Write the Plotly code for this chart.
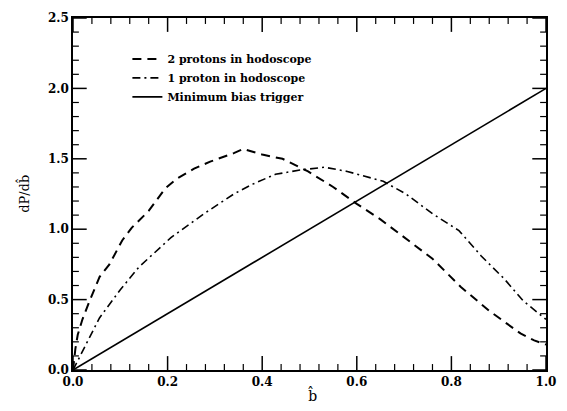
import plotly.graph_objects as go

# 2 protons in hodoscope (dashed)
b_two = [0, 0.005, 0.01, 0.02, 0.035, 0.056, 0.077, 0.104, 0.124, 0.16, 0.195, 0.22, 0.256, 0.29, 0.34, 0.36, 0.38, 0.4, 0.443, 0.497, 0.55, 0.6, 0.65, 0.7, 0.76, 0.82, 0.88, 0.946, 0.975, 1.0]
y_two = [0, 0.15, 0.25, 0.36, 0.49, 0.66, 0.75, 0.92, 1.01, 1.13, 1.29, 1.36, 1.43, 1.48, 1.54, 1.57, 1.55, 1.53, 1.50, 1.41, 1.30, 1.18, 1.07, 0.94, 0.79, 0.59, 0.42, 0.26, 0.21, 0.18]

# 1 proton in hodoscope (dash-dot)
b_one = [0, 0.02, 0.056, 0.1, 0.139, 0.207, 0.277, 0.34, 0.38, 0.428, 0.48, 0.532, 0.58, 0.656, 0.704, 0.76, 0.816, 0.863, 0.911, 0.952, 0.988, 1.0]
y_one = [0, 0.13, 0.37, 0.57, 0.73, 0.94, 1.11, 1.25, 1.32, 1.39, 1.42, 1.44, 1.41, 1.34, 1.25, 1.11, 0.99, 0.81, 0.65, 0.49, 0.39, 0.36]

# Minimum bias trigger (solid)
b_mb = [0.0, 1.0]
y_mb = [0.0, 2.0]

names = ["2 protons in hodoscope", "1 proton in hodoscope", "Minimum bias trigger"]
x_title = "b\u0302"
y_title = "dP/db\u0302"

# tick positions
x_major = [0.0, 0.2, 0.4, 0.6, 0.8, 1.0]
x_minor = [0.04, 0.08, 0.12, 0.16, 0.24, 0.28, 0.32, 0.36, 0.44, 0.48, 0.52, 0.56,
           0.64, 0.68, 0.72, 0.76, 0.84, 0.88, 0.92, 0.96]
y_major = [0.0, 0.5, 1.0, 1.5, 2.0, 2.5]
y_minor = [0.1, 0.2, 0.3, 0.4, 0.6, 0.7, 0.8, 0.9, 1.1, 1.2, 1.3, 1.4, 1.6, 1.7, 1.8, 1.9,
           2.1, 2.2, 2.3, 2.4]

X_RANGE = [0.0, 1.0]
Y_RANGE = [0.0, 2.5]
FONT = "DejaVu Serif"

# plot-area size in pixels, used to turn tick lengths in px into data units
PLOT_W = 567 - 73 - 11
PLOT_H = 411 - 15 - 41
MAJOR_PX, MINOR_PX = 14, 6


def tick_path(x_vals, y_vals, len_px):
    """Inside tick marks on all four sides, placed with the axis scales."""
    lx = len_px / PLOT_W * (X_RANGE[1] - X_RANGE[0])
    ly = len_px / PLOT_H * (Y_RANGE[1] - Y_RANGE[0])
    xs, ys = [], []
    for v in x_vals:
        xs += [v, v, None, v, v, None]
        ys += [Y_RANGE[0], Y_RANGE[0] + ly, None, Y_RANGE[1], Y_RANGE[1] - ly, None]
    for v in y_vals:
        xs += [X_RANGE[0], X_RANGE[0] + lx, None, X_RANGE[1], X_RANGE[1] - lx, None]
        ys += [v, v, None, v, v, None]
    return xs, ys


fig = go.Figure()
fig.add_trace(go.Scatter(x=b_two, y=y_two, mode="lines", name=names[0],
                         line=dict(color="black", width=2, dash="9px,6px")))
fig.add_trace(go.Scatter(x=b_one, y=y_one, mode="lines", name=names[1],
                         line=dict(color="black", width=1.6, dash="8px,4px,2px,4px")))
fig.add_trace(go.Scatter(x=b_mb, y=y_mb, mode="lines", name=names[2],
                         line=dict(color="black", width=1.6)))

for xv, yv, ln, w in [(x_major, y_major, MAJOR_PX, 1.5), (x_minor, y_minor, MINOR_PX, 1.2)]:
    tx, ty = tick_path(xv, yv, ln)
    fig.add_trace(go.Scatter(x=tx, y=ty, mode="lines", showlegend=False, hoverinfo="skip",
                             line=dict(color="black", width=w)))

tick_font = dict(family=FONT, size=12, color="black", weight="bold")

fig.update_layout(
    xaxis=dict(range=X_RANGE, tickvals=x_major, ticktext=[f"{v:.1f}" for v in x_major],
               showgrid=False, zeroline=False, showline=True, linecolor="black", linewidth=1.5,
               mirror=True, ticks="", tickfont=tick_font),
    yaxis=dict(range=Y_RANGE, tickvals=y_major, ticktext=[f"{v:.1f}" for v in y_major],
               showgrid=False, zeroline=False, showline=True, linecolor="black", linewidth=1.5,
               mirror=True, ticks="", tickfont=tick_font),
    width=567, height=411,
    margin=dict(l=73, r=11, t=15, b=41),
    plot_bgcolor="white", paper_bgcolor="white",
    legend=dict(x=0.115, y=0.925, xanchor="left", yanchor="top", bgcolor="rgba(0,0,0,0)",
                font=dict(family=FONT, size=11, color="black", weight="bold"), tracegroupgap=0,
                itemwidth=30),
    annotations=[
        dict(text=x_title, xref="paper", yref="paper", x=0.507, y=-0.07, xanchor="center",
             yanchor="middle", showarrow=False, font=dict(family=FONT, size=14, color="black")),
        dict(text=y_title, xref="paper", yref="paper", x=-0.106, y=0.5, xanchor="center",
             yanchor="middle", textangle=-90, showarrow=False,
             font=dict(family=FONT, size=13, color="black")),
    ],
)

fig.write_html("out.html")
